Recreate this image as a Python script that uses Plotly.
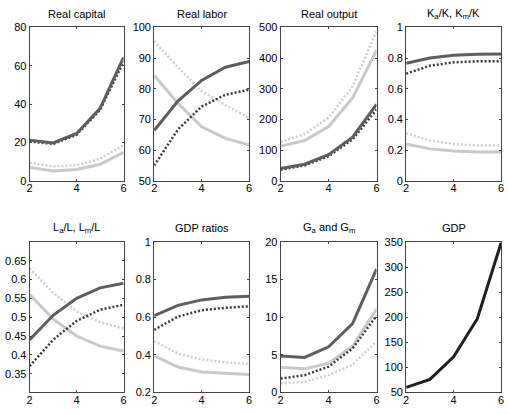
import plotly.graph_objects as go

x = [2, 3, 4, 5, 6]

# Real capital
cap_dark = [21.2, 19.7, 24.7, 37.8, 64.4]
cap_dark_dot = [20.5, 19.2, 24.0, 37.0, 62.0]
cap_light = [7.0, 5.1, 5.9, 8.6, 14.9]
cap_light_dot = [9.3, 7.5, 8.1, 11.5, 18.6]

# Real labor
lab_dark = [66.4, 76.0, 82.7, 87.0, 88.9]
lab_dark_dot = [55.0, 66.7, 74.2, 78.0, 79.7]
lab_light = [84.3, 75.3, 67.6, 63.8, 61.7]
lab_light_dot = [95.5, 87.0, 79.3, 74.7, 70.5]

# Real output
out_dark = [40, 54, 85, 142, 249]
out_dark_dot = [36, 50, 80, 135, 232]
out_light = [113, 131, 177, 270, 425]
out_light_dot = [126, 152, 206, 307, 487]

# Ka/K, Km/K
k_dark = [0.766, 0.800, 0.818, 0.825, 0.826]
k_dark_dot = [0.698, 0.750, 0.772, 0.779, 0.779]
k_light = [0.240, 0.208, 0.194, 0.187, 0.187]
k_light_dot = [0.310, 0.262, 0.240, 0.230, 0.230]

# La/L, Lm/L
l_dark = [0.44, 0.505, 0.55, 0.578, 0.59]
l_dark_dot = [0.37, 0.44, 0.49, 0.52, 0.533]
l_light = [0.56, 0.495, 0.45, 0.423, 0.41]
l_light_dot = [0.63, 0.565, 0.515, 0.487, 0.47]

# GDP ratios
g_dark = [0.608, 0.663, 0.692, 0.706, 0.711]
g_dark_dot = [0.533, 0.603, 0.637, 0.650, 0.658]
g_light = [0.395, 0.335, 0.309, 0.300, 0.295]
g_light_dot = [0.473, 0.407, 0.375, 0.360, 0.352]

# Ga and Gm
gg_dark = [4.86, 4.65, 6.06, 9.16, 16.4]
gg_dark_dot = [1.85, 2.3, 3.44, 5.85, 10.2]
gg_light = [3.35, 3.14, 3.9, 6.15, 11.1]
gg_light_dot = [1.2, 1.4, 2.3, 3.7, 6.8]

# GDP
gdp = [60, 76, 121, 197, 348]

titles = ["Real capital", "Real labor", "Real output", "K<sub>a</sub>/K, K<sub>m</sub>/K",
          "L<sub>a</sub>/L, L<sub>m</sub>/L", "GDP ratios", "G<sub>a</sub> and G<sub>m</sub>", "GDP"]

xtickvals = [2, 4, 6]
xticktext = ["2", "4", "6"]

yranges = [[0, 80], [50, 100], [0, 500], [0, 1], [0.3, 0.7], [0.2, 1], [0, 20], [50, 350]]
ytickvals = [[0, 20, 40, 60, 80], [50, 60, 70, 80, 90, 100], [0, 100, 200, 300, 400, 500],
             [0, 0.2, 0.4, 0.6, 0.8, 1], [0.35, 0.4, 0.45, 0.5, 0.55, 0.6, 0.65],
             [0.2, 0.4, 0.6, 0.8, 1], [0, 5, 10, 15, 20], [50, 100, 150, 200, 250, 300, 350]]
yticktext = [
    ["0", "20", "40", "60", "80"],
    ["50", "60", "70", "80", "90", "100"],
    ["0", "100", "200", "300", "400", "500"],
    ["0", "0.2", "0.4", "0.6", "0.8", "1"],
    ["0.35", "0.4", "0.45", "0.5", "0.55", "0.6", "0.65"],
    ["0.2", "0.4", "0.6", "0.8", "1"],
    ["0", "5", "10", "15", "20"],
    ["50", "100", "150", "200", "250", "300", "350"],
]

panels = [
    (cap_dark, cap_dark_dot, cap_light, cap_light_dot),
    (lab_dark, lab_dark_dot, lab_light, lab_light_dot),
    (out_dark, out_dark_dot, out_light, out_light_dot),
    (k_dark, k_dark_dot, k_light, k_light_dot),
    (l_dark, l_dark_dot, l_light, l_light_dot),
    (g_dark, g_dark_dot, g_light, g_light_dot),
    (gg_dark, gg_dark_dot, gg_light, gg_light_dot),
]

W, H = 508, 414
xpix = [(27, 122), (153, 249), (281, 378), (408, 504)]
ypix = [(22, 180), (243, 398)]

DARK = "#5e5e5e"
DARK_DOT = "#3a3a3a"
LIGHT = "#c9c9c9"
LIGHT_DOT = "#cfcfcf"

fig = go.Figure()
layout = dict(width=W, height=H, margin=dict(l=0, r=0, t=0, b=0, pad=0),
              paper_bgcolor="white", plot_bgcolor="white", showlegend=False,
              font=dict(family="Liberation Sans, Arial, sans-serif", size=11, color="black"))
annotations = []

for i in range(8):
    r, c = divmod(i, 4)
    xa = "x" if i == 0 else f"x{i+1}"
    ya = "y" if i == 0 else f"y{i+1}"
    xk = "xaxis" if i == 0 else f"xaxis{i+1}"
    yk = "yaxis" if i == 0 else f"yaxis{i+1}"
    x0, x1 = xpix[c]
    y0, y1 = ypix[r]
    layout[xk] = dict(domain=[x0 / W, x1 / W], range=[2, 6], anchor=ya,
                      tickvals=xtickvals, ticktext=xticktext,
                      ticks="inside", ticklen=2, tickcolor="#444",
                      showline=True, linecolor="#444", linewidth=1, mirror="ticks",
                      showgrid=False, zeroline=False, ticklabelstandoff=-3,
                      tickfont=dict(size=11, color="black"))
    layout[yk] = dict(domain=[1 - y1 / H, 1 - y0 / H], range=yranges[i], anchor=xa,
                      tickvals=ytickvals[i], ticktext=yticktext[i],
                      ticks="inside", ticklen=2, tickcolor="#444",
                      showline=True, linecolor="#444", linewidth=1, mirror="ticks",
                      showgrid=False, zeroline=False, tickfont=dict(size=11, color="black"))
    annotations.append(dict(text=titles[i], x=(x0 + x1) / 2 / W, y=1 - (y0 - 14) / H,
                            xref="paper", yref="paper", showarrow=False,
                            xanchor="center", yanchor="middle",
                            font=dict(size=11, color="black")))
    if i < 7:
        d, dd, l, ld = panels[i]
        fig.add_trace(go.Scatter(x=x, y=l, mode="lines", xaxis=xa, yaxis=ya,
                                 line=dict(color=LIGHT, width=3)))
        fig.add_trace(go.Scatter(x=x, y=ld, mode="lines", xaxis=xa, yaxis=ya,
                                 line=dict(color=LIGHT_DOT, width=2.5, dash="2px,2px")))
        fig.add_trace(go.Scatter(x=x, y=dd, mode="lines", xaxis=xa, yaxis=ya,
                                 line=dict(color=DARK_DOT, width=2.5, dash="2px,2px")))
        fig.add_trace(go.Scatter(x=x, y=d, mode="lines", xaxis=xa, yaxis=ya,
                                 line=dict(color=DARK, width=3)))
    else:
        fig.add_trace(go.Scatter(x=x, y=gdp, mode="lines", xaxis=xa, yaxis=ya,
                                 line=dict(color="#1e1e1e", width=3)))

layout["annotations"] = annotations
fig.update_layout(**layout)
fig.write_html("out.html", config={"displayModeBar": False},
               post_script="document.body.style.margin='0';document.body.style.overflow='hidden';")
